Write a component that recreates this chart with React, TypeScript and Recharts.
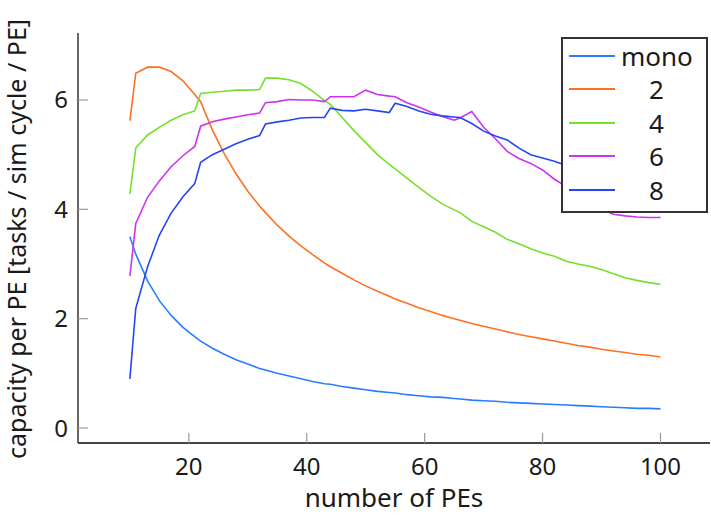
import { LineChart, Line, XAxis, YAxis, Legend } from "recharts";

// number of PEs (x) and capacity per PE for each configuration
const PES = [10, 11, 13, 15, 17, 19, 21, 22, 24, 26, 28, 30, 32, 33, 35, 37, 39, 41, 43, 44, 46, 48, 50, 52, 54, 55, 57, 59, 61, 63, 65, 66, 68, 70, 72, 74, 76, 78, 80, 82, 84, 86, 88, 90, 92, 94, 96, 98, 100];
const MONO = [3.5, 3.18, 2.69, 2.33, 2.06, 1.84, 1.67, 1.59, 1.46, 1.35, 1.25, 1.17, 1.09, 1.06, 1.0, 0.95, 0.9, 0.85, 0.81, 0.8, 0.76, 0.73, 0.7, 0.67, 0.65, 0.64, 0.61, 0.59, 0.57, 0.56, 0.54, 0.53, 0.51, 0.5, 0.49, 0.47, 0.46, 0.45, 0.44, 0.43, 0.42, 0.41, 0.4, 0.39, 0.38, 0.37, 0.36, 0.36, 0.35];
const TWO = [5.62, 6.49, 6.6, 6.6, 6.52, 6.35, 6.1, 5.97, 5.45, 5.02, 4.65, 4.33, 4.06, 3.94, 3.71, 3.51, 3.33, 3.17, 3.02, 2.95, 2.83, 2.71, 2.6, 2.5, 2.41, 2.36, 2.28, 2.2, 2.13, 2.06, 2.0, 1.97, 1.91, 1.86, 1.81, 1.76, 1.71, 1.67, 1.63, 1.59, 1.55, 1.51, 1.48, 1.44, 1.41, 1.38, 1.35, 1.33, 1.3];
const FOUR = [4.28, 5.12, 5.36, 5.5, 5.63, 5.73, 5.8, 6.12, 6.14, 6.16, 6.18, 6.18, 6.19, 6.4, 6.4, 6.37, 6.3, 6.16, 5.99, 5.92, 5.68, 5.44, 5.22, 5.0, 4.82, 4.74, 4.57, 4.4, 4.24, 4.1, 3.99, 3.94, 3.78, 3.68, 3.58, 3.45, 3.37, 3.28, 3.2, 3.14, 3.05, 3.0, 2.96, 2.9, 2.82, 2.75, 2.7, 2.66, 2.63];
const SIX = [2.78, 3.74, 4.22, 4.52, 4.78, 4.98, 5.15, 5.52, 5.6, 5.65, 5.69, 5.73, 5.76, 5.95, 5.97, 6.01, 6.0, 6.0, 5.97, 6.06, 6.06, 6.06, 6.18, 6.1, 6.07, 6.06, 5.95, 5.87, 5.78, 5.7, 5.63, 5.67, 5.79, 5.5, 5.29, 5.06, 4.93, 4.84, 4.72, 4.55, 4.42, 4.3, 4.15, 4.0, 3.91, 3.88, 3.86, 3.85, 3.85];
const EIGHT = [0.9, 2.19, 2.95, 3.53, 3.93, 4.23, 4.47, 4.86, 5.0, 5.1, 5.2, 5.28, 5.35, 5.56, 5.6, 5.63, 5.67, 5.68, 5.68, 5.85, 5.81, 5.8, 5.83, 5.8, 5.77, 5.94, 5.88, 5.8, 5.74, 5.71, 5.69, 5.68, 5.57, 5.43, 5.34, 5.27, 5.12, 5.0, 4.94, 4.88, 4.8, 4.7, 4.58, 4.46, 4.34, 4.23, 4.12, 4.03, 3.95];

const X_TICKS = [20, 40, 60, 80, 100];
const Y_TICKS = [0, 2, 4, 6];

const SERIES = [
  { key: "mono", name: "mono", values: MONO, color: "#2a7cff" },
  { key: "two", name: "2", values: TWO, color: "#ff6f22" },
  { key: "four", name: "4", values: FOUR, color: "#74e02a" },
  { key: "six", name: "6", values: SIX, color: "#cc33ee" },
  { key: "eight", name: "8", values: EIGHT, color: "#2446f2" },
];
const ORDER = SERIES.map((s) => s.name);

const data = PES.map((pe, i) => {
  const row: Record<string, number> = { pe };
  for (const s of SERIES) row[s.key] = s.values[i];
  return row;
});

const FONT = "'Noto Sans', sans-serif";
const TICK_GRAY = "#9a9a9a";
const FRAME = "#333";

// ticks point into the plot, like the original
const BottomTick = ({ x, y, payload }: any) => (
  <g>
    <line x1={x} y1={y} x2={x} y2={y - 10} stroke={TICK_GRAY} strokeWidth={1.2} />
    <text x={x} y={y + 32} textAnchor="middle" fontSize={24} fill="#1a1a1a" fontFamily={FONT}>
      {payload.value}
    </text>
  </g>
);
const TopTick = ({ x, y }: any) => (
  <line x1={x} y1={y} x2={x} y2={y + 10} stroke={TICK_GRAY} strokeWidth={1.2} />
);
const LeftTick = ({ x, y, payload }: any) => (
  <g>
    <line x1={x} y1={y} x2={x + 10} y2={y} stroke={TICK_GRAY} strokeWidth={1.2} />
    <text x={x - 10} y={y + 8.5} textAnchor="end" fontSize={24} fill="#1a1a1a" fontFamily={FONT}>
      {payload.value}
    </text>
  </g>
);
const RightTick = ({ x, y }: any) => (
  <line x1={x} y1={y} x2={x - 10} y2={y} stroke={TICK_GRAY} strokeWidth={1.2} />
);

const LegendBox = ({ payload }: any) => {
  const items = [...(payload || [])].sort(
    (a: any, b: any) => ORDER.indexOf(a.value) - ORDER.indexOf(b.value)
  );
  return (
    <div
      style={{
        background: "#fff",
        border: `2px solid ${FRAME}`,
        width: 147,
        height: 176,
        boxSizing: "border-box",
        fontFamily: FONT,
        fontSize: 26,
        color: "#1a1a1a",
      }}
    >
      {items.map((p: any) => (
        <div key={p.value} style={{ display: "flex", alignItems: "center", height: 34, marginTop: -0.5 }}>
          <svg width={52} height={6} style={{ flex: "none" }}>
            <line x1={6} y1={3} x2={52} y2={3} stroke={p.color} strokeWidth={2} />
          </svg>
          <span style={{ width: 71, marginLeft: 6, textAlign: "center", lineHeight: "34px" }}>
            {p.value}
          </span>
        </div>
      ))}
    </div>
  );
};

export default function App() {
  return (
    <div style={{ position: "absolute", left: 0, top: 0, background: "#fff" }}>
      <LineChart
        width={711}
        height={517}
        data={data}
        margin={{ top: 33, right: 1, bottom: 0, left: 0 }}
        style={{ fontFamily: FONT }}
      >
        <XAxis
          dataKey="pe"
          type="number"
          domain={[1.2, 108.4]}
          allowDataOverflow
          ticks={X_TICKS}
          interval={0}
          height={74}
          tickSize={0}
          tickMargin={0}
          tickLine={false}
          tick={<BottomTick />}
          axisLine={{ stroke: "#444", strokeWidth: 2 }}
          label={{
            value: "number of PEs",
            position: "insideBottom",
            offset: 10,
            fontSize: 26,
            fill: "#1a1a1a",
          }}
        />
        <XAxis
          xAxisId="top"
          orientation="top"
          dataKey="pe"
          type="number"
          domain={[1.2, 108.4]}
          allowDataOverflow
          ticks={X_TICKS}
          interval={0}
          height={0}
          tickSize={0}
          tickMargin={0}
          tickLine={false}
          tick={<TopTick />}
          axisLine={{ stroke: FRAME, strokeWidth: 1.5 }}
        />
        <YAxis
          type="number"
          domain={[-0.274, 7.225]}
          allowDataOverflow
          ticks={Y_TICKS}
          interval={0}
          width={78}
          tickSize={0}
          tickMargin={0}
          tickLine={false}
          tick={<LeftTick />}
          axisLine={{ stroke: FRAME, strokeWidth: 1.5 }}
          label={{
            value: "capacity per PE [tasks / sim cycle / PE]",
            angle: -90,
            position: "insideLeft",
            offset: 17,
            dy: 1,
            fontSize: 25,
            fill: "#1a1a1a",
            style: { textAnchor: "middle" },
          }}
        />
        <YAxis
          yAxisId="right"
          orientation="right"
          type="number"
          domain={[-0.274, 7.225]}
          allowDataOverflow
          ticks={Y_TICKS}
          interval={0}
          width={0}
          tickSize={0}
          tickMargin={0}
          tickLine={false}
          tick={<RightTick />}
          axisLine={{ stroke: FRAME, strokeWidth: 1.5 }}
        />
        {SERIES.map((s) => (
          <Line
            key={s.key}
            dataKey={s.key}
            name={s.name}
            type="linear"
            stroke={s.color}
            strokeWidth={1.6}
            dot={false}
            activeDot={false}
            isAnimationActive={false}
          />
        ))}
        <Legend
          layout="vertical"
          align="center"
          verticalAlign="middle"
          content={<LegendBox />}
          wrapperStyle={{ position: "absolute", top: 37, left: 561, width: 147, height: 176 }}
        />
      </LineChart>
    </div>
  );
}
